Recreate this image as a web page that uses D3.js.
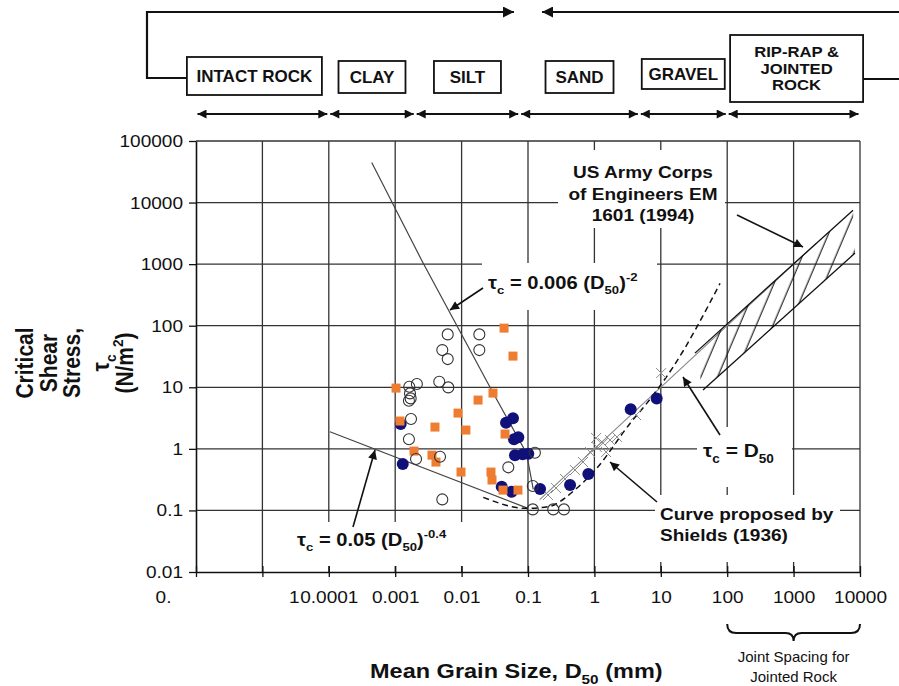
<!DOCTYPE html>
<html>
<head>
<meta charset="utf-8">
<script src="https://cdn.jsdelivr.net/npm/d3@7"></script>
<style>
  body { margin: 0; background: #fff; }
  svg { display: block; }
  text { font-family: "Liberation Sans", Arial, sans-serif; fill: #111; }
</style>
</head>
<body>
<div id="chart"></div>
<script>
// ---- data ----
const xTicks = [1e-6, 1e-5, 1e-4, 0.001, 0.01, 0.1, 1, 10, 100, 1000, 10000];
const xTickLabels = ["0.", "1", "0.0001", "0.001", "0.01", "0.1", "1", "10", "100", "1000", "10000"];
const yTicks = [0.01, 0.1, 1, 10, 100, 1000, 10000, 100000];
const yTickLabels = ["0.01", "0.1", "1", "10", "100", "1000", "10000", "100000"];

const soilClasses = ["INTACT ROCK", "CLAY", "SILT", "SAND", "GRAVEL", "RIP-RAP &\nJOINTED\nROCK"];
const classBounds = [1e-6, 1e-4, 0.002, 0.075, 4.75, 100, 10000];

// [D50 (mm), tau_c (N/m2)]
const squares = [
  [0.0436, 91.4], [0.0594, 32.1], [0.00103, 9.7], [0.0297, 8.05], [0.0177, 6.2],
  [0.00883, 3.81], [0.00118, 2.83], [0.00397, 2.26], [0.0116, 2.02], [0.0451, 1.74],
  [0.00192, 0.92], [0.00358, 0.79], [0.00411, 0.61], [0.0098, 0.42], [0.0277, 0.42],
  [0.0287, 0.312], [0.042, 0.214], [0.0706, 0.214]
];
const filledCircles = [
  [0.00121, 2.53], [0.0013, 0.566], [0.0467, 2.65], [0.0594, 3.13], [0.0615, 1.43],
  [0.0714, 1.54], [0.0637, 0.79], [0.0832, 0.82], [0.101, 0.83], [0.0402, 0.243],
  [0.0569, 0.201], [0.152, 0.222], [0.43, 0.258], [0.81, 0.39], [3.52, 4.38], [8.67, 6.6]
];
const openCircles = [
  [0.00618, 72.3], [0.0185, 72.3], [0.00512, 40.2], [0.00618, 28.7], [0.0185, 40.2],
  [0.00163, 10.2], [0.00212, 11.3], [0.00461, 12.3], [0.0063, 9.96], [0.00167, 7.96],
  [0.00171, 6.6], [0.00161, 6.04], [0.00173, 3.05], [0.00161, 1.43], [0.00206, 0.683],
  [0.00473, 0.745], [0.0505, 0.501], [0.00512, 0.151], [0.127, 0.865], [0.118, 0.249],
  [0.118, 0.104], [0.24, 0.104], [0.348, 0.104]
];
const crosses = [
  [0.2, 0.178], [0.264, 0.231], [0.361, 0.324], [0.51, 0.453], [0.673, 0.611],
  [0.859, 0.887], [1.09, 1.07], [1.35, 1.24], [1.72, 1.39], [2.19, 1.56],
  [1.06, 1.5], [1.5, 0.887], [4.24, 3.54], [10.1, 17]
];

const line006 = [[4.43e-4, 44800], [0.0025, 1160], [0.030, 8.0], [0.095, 0.85], [0.12, 0.22]];
const line005 = [[1.04e-4, 1.9], [0.1, 0.108]];
const shieldsCurve = [
  [0.0212, 0.163], [0.0955, 0.108], [0.202, 0.115], [0.541, 0.229], [1.08, 0.482],
  [3.44, 2.59], [6.14, 5.48], [15.4, 21.5], [78, 486]
];
const tauEqualsD = [[0.15, 0.15], [2200, 2200]];
const armyUpper = [[32.7, 35.9], [7850, 7530]];
const armyLower = [[43.2, 9.0], [8410, 1510]];

// ---- setup ----
const width = 899, height = 686;
const svg = d3.select("#chart").append("svg")
  .attr("width", width)
  .attr("height", height);

const x = d3.scaleLog().domain([1e-6, 1e4]).range([196, 860]);
const y = d3.scaleLog().domain([0.01, 1e5]).range([572, 141]);
const SX = 1.12; // the source figure is a little stretched sideways

const defs = svg.append("defs");
function arrowMarker(id, w, h) {
  defs.append("marker")
    .attr("id", id)
    .attr("viewBox", "0 0 10 10")
    .attr("refX", 10).attr("refY", 5)
    .attr("markerWidth", w).attr("markerHeight", h)
    .attr("markerUnits", "userSpaceOnUse")
    .attr("orient", "auto-start-reverse")
    .append("path").attr("d", "M0,0 L10,5 L0,10 z").attr("fill", "#111");
}
arrowMarker("ah", 12, 9);
arrowMarker("ahSmall", 10, 9);
arrowMarker("ahTop", 13, 11);

defs.append("pattern")
  .attr("id", "hatch")
  .attr("patternUnits", "userSpaceOnUse")
  .attr("width", 15.4).attr("height", 10)
  .attr("patternTransform", "rotate(23)")
  .append("line")
  .attr("x1", 7).attr("y1", 0).attr("x2", 7).attr("y2", 10)
  .attr("stroke", "#111").attr("stroke-width", 1.1);

function label(px, py, fs, weight, anchor, sx) {
  return svg.append("text")
    .attr("transform", `translate(${px},${py}) scale(${sx},1)`)
    .attr("font-size", fs)
    .attr("font-weight", weight)
    .attr("text-anchor", anchor);
}
// parts: [text, "n" | "sub" | "sup"]
function rich(t, parts, fs) {
  let cur = 0;
  parts.forEach(([s, k]) => {
    const off = k === "sub" ? fs * 0.3 : k === "sup" ? -fs * 0.42 : 0;
    t.append("tspan")
      .attr("dy", off - cur)
      .attr("font-size", k === "n" ? fs : fs * 0.65)
      .text(s);
    cur = off;
  });
  return t;
}

// ---- top classification bar ----
const topY = 12;
const topBar = svg.append("g").attr("fill", "none").attr("stroke", "#111").attr("stroke-width", 2.2);
topBar.append("path")
  .attr("d", `M188,78 L147,78 L147,${topY} L${x(0.1) - 14},${topY}`)
  .attr("marker-end", "url(#ahTop)");
topBar.append("line")
  .attr("x1", 899).attr("y1", topY).attr("x2", x(0.1) + 14).attr("y2", topY)
  .attr("marker-end", "url(#ahTop)");
topBar.append("line")
  .attr("x1", 862).attr("y1", 79).attr("x2", 899).attr("y2", 79);

const boxW = [135, 67, 67, 68, 83, 133];
const boxH = [38, 32, 32, 32, 30, 67];
const boxCY = [76, 77, 77, 77, 74, 68.5];
const boxDX = [-8, 0, 0, 0, 0, 3];

soilClasses.forEach((name, i) => {
  const cx = (x(classBounds[i]) + x(classBounds[i + 1])) / 2 + boxDX[i];
  svg.append("rect")
    .attr("x", cx - boxW[i] / 2).attr("y", boxCY[i] - boxH[i] / 2)
    .attr("width", boxW[i]).attr("height", boxH[i])
    .attr("fill", "#fff").attr("stroke", "#111").attr("stroke-width", 1.8);
  const lines = name.split("\n");
  const multi = lines.length > 1;
  const fs = multi ? 14.5 : 17;
  const sx = multi ? 1.15 : 1;
  const step = 16.5;
  lines.forEach((ln, j) => {
    label(cx, boxCY[i] + fs * 0.36 + (j - (lines.length - 1) / 2) * step, fs, "bold", "middle", sx)
      .text(ln);
  });
  // double arrow across the size range
  svg.append("line")
    .attr("x1", x(classBounds[i]) + 1.5).attr("x2", x(classBounds[i + 1]) - 1.5)
    .attr("y1", 114).attr("y2", 114)
    .attr("stroke", "#111").attr("stroke-width", 2)
    .attr("marker-start", "url(#ahSmall)")
    .attr("marker-end", "url(#ahSmall)");
});

// ---- grid ----
const grid = svg.append("g").attr("stroke", "#333").attr("stroke-width", 1.3);
grid.selectAll(".h").data(yTicks.slice(1)).join("line")
  .attr("x1", x(1e-6)).attr("x2", x(1e4))
  .attr("y1", d => y(d)).attr("y2", d => y(d));
grid.selectAll(".v").data(xTicks.slice(1)).join("line")
  .attr("x1", d => x(d)).attr("x2", d => x(d))
  .attr("y1", y(1e5)).attr("y2", y(0.01));

// white boxes behind the annotations
const labelBoxes = [[482, 263, 175, 47], [558, 150, 167, 78], [697, 427, 95, 60], [655, 495, 185, 67], [268, 522, 202, 44]];
svg.append("g").selectAll("rect").data(labelBoxes).join("rect")
  .attr("x", d => d[0]).attr("y", d => d[1])
  .attr("width", d => d[2]).attr("height", d => d[3])
  .attr("fill", "#fff");

// ---- axes ----
const yAxis = svg.append("g")
  .attr("transform", `translate(${x(1e-6)},0)`)
  .call(d3.axisLeft(y).tickValues(yTicks).tickFormat((d, i) => yTickLabels[i]).tickSize(7).tickSizeOuter(0));
yAxis.select(".domain").attr("stroke", "#111").attr("stroke-width", 1.6);
yAxis.selectAll(".tick line").attr("stroke", "#111").attr("stroke-width", 1.3);
yAxis.selectAll(".tick text")
  .attr("font-size", 17).attr("font-family", "Liberation Sans, Arial, sans-serif").attr("fill", "#111")
  .attr("x", -13 / SX).attr("transform", `scale(${SX},1)`);

const xNudge = [-33, 31.5, 0, 0, 0, 0, 0, 0, 0, 0, 0];
const xAxis = svg.append("g")
  .attr("transform", `translate(0,${y(0.01)})`)
  .call(d3.axisBottom(x).tickValues(xTicks).tickFormat((d, i) => xTickLabels[i]).tickSize(5).tickSizeOuter(0));
xAxis.select(".domain").attr("stroke", "#111").attr("stroke-width", 1.6);
xAxis.selectAll(".tick line").attr("stroke", "#111").attr("stroke-width", 1.3).attr("y1", -6);
xAxis.selectAll(".tick text")
  .attr("font-size", 17).attr("font-family", "Liberation Sans, Arial, sans-serif").attr("fill", "#111")
  .attr("y", 19)
  .attr("x", (d, i) => xNudge[i] / SX)
  .attr("transform", `scale(${SX},1)`);

// ---- lines ----
const lineGen = d3.line().x(d => x(d[0])).y(d => y(d[1]));

svg.append("path").datum(line006).attr("d", lineGen)
  .attr("fill", "none").attr("stroke", "#444").attr("stroke-width", 1.2);
svg.append("path").datum(line005).attr("d", lineGen)
  .attr("fill", "none").attr("stroke", "#444").attr("stroke-width", 1.2);
svg.append("path").datum(tauEqualsD).attr("d", lineGen)
  .attr("fill", "none").attr("stroke", "#888").attr("stroke-width", 1.1);
svg.append("path").datum(shieldsCurve).attr("d", d3.line().curve(d3.curveMonotoneX).x(d => x(d[0])).y(d => y(d[1])))
  .attr("fill", "none").attr("stroke", "#111").attr("stroke-width", 1.5)
  .attr("stroke-dasharray", "6,4");

// hatched band (US Army Corps EM 1601)
const band = [armyLower[0], armyLower[1], armyUpper[1], armyUpper[0]];
svg.append("path").datum(band).attr("d", d => lineGen(d) + "Z")
  .attr("fill", "url(#hatch)").attr("stroke", "none");
[armyUpper, armyLower].forEach(l => {
  svg.append("path").datum(l).attr("d", lineGen)
    .attr("fill", "none").attr("stroke", "#111").attr("stroke-width", 1.3);
});

// ---- points ----
svg.append("g").selectAll("path").data(crosses).join("path")
  .attr("d", d => {
    const cx = x(d[0]), cy = y(d[1]), s = 5;
    return `M${cx - s},${cy - s}L${cx + s},${cy + s}M${cx - s},${cy + s}L${cx + s},${cy - s}`;
  })
  .attr("stroke", "#8a8a8a").attr("stroke-width", 1);

svg.append("g").selectAll("circle").data(filledCircles).join("circle")
  .attr("cx", d => x(d[0])).attr("cy", d => y(d[1])).attr("r", 6)
  .attr("fill", "#10107a");

svg.append("g").selectAll("rect").data(squares).join("rect")
  .attr("x", d => x(d[0]) - 4.5).attr("y", d => y(d[1]) - 4.5)
  .attr("width", 9).attr("height", 9)
  .attr("fill", "#ee7d31");

svg.append("g").selectAll("circle").data(openCircles).join("circle")
  .attr("cx", d => x(d[0])).attr("cy", d => y(d[1])).attr("r", 5.5)
  .attr("fill", "none").attr("stroke", "#333").attr("stroke-width", 1.1);

// ---- annotations ----
const arrows = [[483, 288, 450, 310], [737, 215, 803, 247], [353, 527, 375, 450], [720, 435, 683, 377], [657, 502, 610, 462]];
svg.append("g").selectAll("line").data(arrows).join("line")
  .attr("x1", d => d[0]).attr("y1", d => d[1]).attr("x2", d => d[2]).attr("y2", d => d[3])
  .attr("stroke", "#111").attr("stroke-width", 1.6)
  .attr("marker-end", "url(#ah)");

rich(label(488, 289, 18, "bold", "start", SX),
  [["τ", "n"], ["c", "sub"], [" = 0.006 (D", "n"], ["50", "sub"], [")", "n"], ["-2", "sup"]], 18);
["US Army Corps", "of Engineers EM", "1601 (1994)"].forEach((s, i) => {
  label(643, 178 + i * 21.5, 17, "bold", "middle", SX).text(s);
});
rich(label(703, 457, 19, "bold", "start", 1.1),
  [["τ", "n"], ["c", "sub"], [" = D", "n"], ["50", "sub"]], 19);
label(660, 520, 17, "bold", "start", SX).text("Curve proposed by");
label(660, 541, 17, "bold", "start", SX).text("Shields (1936)");
rich(label(297, 546, 18, "bold", "start", SX),
  [["τ", "n"], ["c", "sub"], [" = 0.05 (D", "n"], ["50", "sub"], [")", "n"], ["-0.4", "sup"]], 18);

// ---- axis titles ----
rich(label(370, 678, 21, "bold", "start", SX),
  [["Mean Grain Size, D", "n"], ["50", "sub"], [" (mm)", "n"]], 21);

const yTitle = [
  [33, [["Critical", "n"]]],
  [57, [["Shear", "n"]]],
  [80, [["Stress,", "n"]]],
  [109, [["τ", "n"], ["c", "sub"]]],
  [133, [["(N/m", "n"], ["2", "sup"], [")", "n"]]]
];
yTitle.forEach(([bx, parts]) => {
  const t = svg.append("text")
    .attr("transform", `translate(${bx},363) rotate(-90) scale(1,${SX})`)
    .attr("font-size", 21).attr("font-weight", "bold").attr("text-anchor", "middle");
  rich(t, parts, 21);
});

// joint spacing brace
const bx1 = x(100), bx2 = x(10000), bxm = x(1000);
svg.append("path")
  .attr("d", `M${bx1},624 Q${bx1},633 ${bx1 + 9},633 L${bxm - 8},633 Q${bxm},633 ${bxm},641 Q${bxm},633 ${bxm + 8},633 L${bx2 - 9},633 Q${bx2},633 ${bx2},624`)
  .attr("fill", "none").attr("stroke", "#111").attr("stroke-width", 2);
label(bxm, 662, 15, "normal", "middle", 1).text("Joint Spacing for");
label(bxm, 682, 15, "normal", "middle", 1).text("Jointed Rock");
</script>
</body>
</html>
